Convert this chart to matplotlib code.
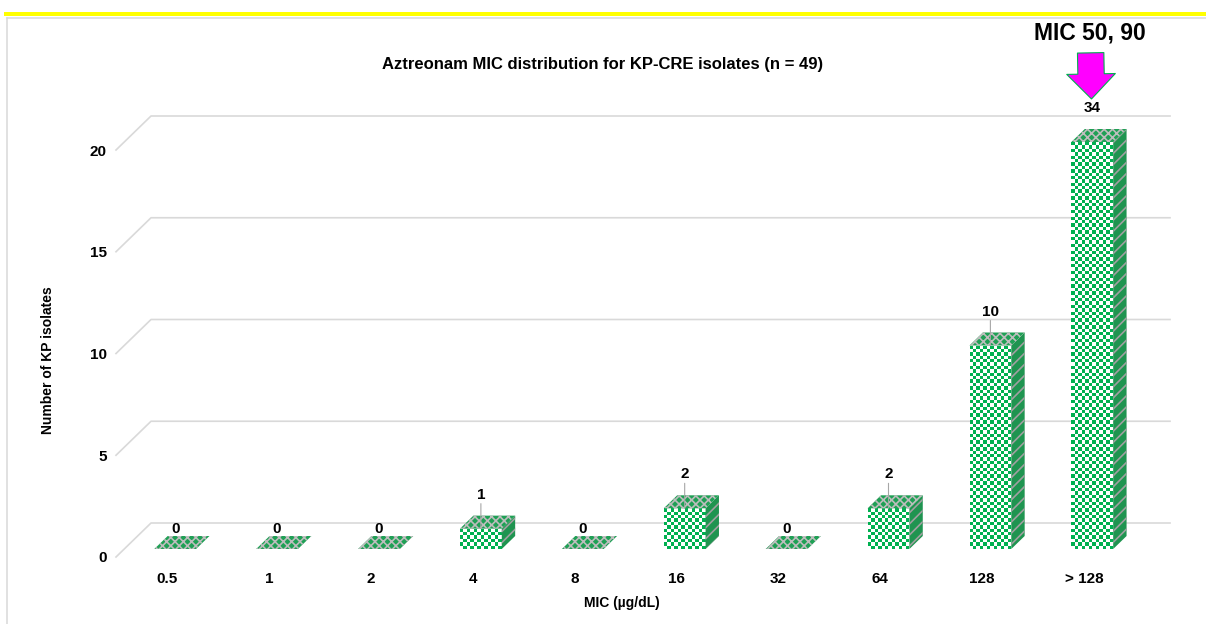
import numpy as np
import matplotlib.pyplot as plt
from matplotlib.patches import Polygon
from matplotlib.lines import Line2D
from matplotlib.colors import ListedColormap

# MIC classes (µg/dL) and number of KP-CRE isolates in each
mic_labels = ["0.5", "1", "2", "4", "8", "16", "32", "64", "128", "> 128"]
isolates = [0, 0, 0, 1, 0, 2, 0, 2, 10, 34]
y_ticks = [0, 5, 10, 15, 20]

plt.rcParams["font.family"] = ["Liberation Sans", "DejaVu Sans"]
plt.rcParams["font.weight"] = "bold"
plt.rcParams["hatch.linewidth"] = 1.2

GREEN = "#00B050"
GRID = "#D9D9D9"
FIG_W, FIG_H, DPI = 1206, 624, 100

# depth of the fake 3d box, in pixels back from the front plane
WALL = 34
BAR_FRONT = 8
BAR_BACK = 21
BAR_W = 0.41
CELL_PX = 3.4

fig = plt.figure(figsize=(FIG_W / DPI, FIG_H / DPI), dpi=DPI)
ax_px = (116, 67, 1019, 407)
ax = fig.add_axes([ax_px[0] / FIG_W, ax_px[1] / FIG_H,
                   ax_px[2] / FIG_W, ax_px[3] / FIG_H])
n = len(mic_labels)
ymax = y_ticks[-1]
px_x = ax_px[2] / n
px_y = ax_px[3] / ymax


def depth(x, y, d):
    # move a front-plane point d pixels back into the box
    return x + 1.03 * d / px_x, y + d / px_y


# back wall gridlines with their slanted lead-ins
for v in y_ticks:
    bx0, by = depth(-0.5, v, WALL)
    bx1, _ = depth(n - 0.5, v, WALL)
    ax.plot([-0.5, bx0, bx1], [v, by, by], color=GRID, lw=1.2,
            clip_on=False, zorder=0)

checker_cmap = ListedColormap(["white", GREEN])

for i, v in enumerate(isolates):
    h = min(v, ymax)
    x0, x1 = i - BAR_W / 2, i + BAR_W / 2
    fl = depth(x0, 0, BAR_FRONT)
    fr = depth(x1, 0, BAR_FRONT)
    tl = depth(x0, h, BAR_FRONT)
    tr = depth(x1, h, BAR_FRONT)
    bl = depth(x0, h, BAR_BACK)
    br = depth(x1, h, BAR_BACK)
    br0 = depth(x1, 0, BAR_BACK)

    if h > 0:
        # checkered front face
        cols = 12
        rows = max(1, int(round(h * px_y / CELL_PX)))
        xs = np.linspace(fl[0], fr[0], cols + 1)
        ys = np.linspace(fl[1], tl[1], rows + 1)
        board = np.add.outer(np.arange(rows), np.arange(cols)) % 2
        ax.pcolormesh(xs, ys, board, cmap=checker_cmap, shading="flat",
                      clip_on=False, zorder=2)
        # right side face
        ax.add_patch(Polygon([fr, tr, br, br0], closed=True,
                             facecolor="#1F9450", edgecolor="#A0A0A0",
                             hatch="///", lw=0, clip_on=False, zorder=2))

    # top face
    ax.add_patch(Polygon([tl, tr, br, bl], closed=True,
                         facecolor="#1FA055", edgecolor="#BDBDBD",
                         hatch="xxxx", lw=0, clip_on=False, zorder=3))

    # value label above the bar
    lx, ly = depth(i, h, BAR_FRONT)
    lift = 20 if v == 0 else 34
    ax.annotate(str(v), xy=(lx, ly), xytext=(0, lift * 72 / DPI),
                textcoords="offset points", ha="center", va="center",
                fontsize=11, fontweight="bold", annotation_clip=False,
                zorder=5)
    if 0 < v <= ymax:
        ax.annotate("", xy=(lx, ly), xytext=(0, (lift - 9) * 72 / DPI),
                    textcoords="offset points", annotation_clip=False,
                    arrowprops=dict(arrowstyle="-", color="#A6A6A6", lw=0.8,
                                    shrinkA=0, shrinkB=0), zorder=4)

# MIC 50 / MIC 90 marker over the last class
last = len(isolates) - 1
ax.annotate("MIC 50, 90", xy=depth(last, min(isolates[last], ymax), BAR_FRONT),
            xytext=(-2 * 72 / DPI, 109 * 72 / DPI), textcoords="offset points",
            ha="center", va="center", fontsize=16.5, fontweight="bold",
            annotation_clip=False, zorder=6,
            arrowprops=dict(arrowstyle="simple,head_length=18,head_width=35,tail_width=19",
                            mutation_scale=1, fc="#FF00FF", ec=GREEN, lw=0.8,
                            shrinkA=4, shrinkB=31))

ax.set_xlim(-0.5, n - 0.5)
ax.set_ylim(0, ymax)
ax.set_facecolor("none")
for s in ax.spines.values():
    s.set_visible(False)
ax.set_yticks(y_ticks)
ax.set_xticks(range(n), mic_labels)
ax.tick_params(axis="y", length=0, pad=6.5, labelsize=11)
ax.tick_params(axis="x", length=0, pad=10.5, labelsize=11)

ax.set_ylabel("Number of KP isolates", fontsize=10, fontweight="bold")
ax.yaxis.label.set_va("center")
ax.yaxis.set_label_coords(-0.0667, 0.484)
ax.set_xlabel("MIC (µg/dL)", fontsize=10, fontweight="bold")
ax.xaxis.set_label_coords(0.4966, -0.113)
ax.xaxis.label.set_va("center")

fig.text(603 / FIG_W, 1 - 64 / FIG_H,
         "Aztreonam MIC distribution for KP-CRE isolates (n = 49)",
         ha="center", va="center", fontsize=12, fontweight="bold")

# slide frame: yellow rule on top, light border on the left
fig.add_artist(Line2D([6 / FIG_W, 1], [1 - 14 / FIG_H] * 2,
                      color="#FFFF00", lw=4 * 72 / DPI))
fig.add_artist(Line2D([7 / FIG_W, 1], [1 - 17.5 / FIG_H] * 2,
                      color=GRID, lw=1.1))
fig.add_artist(Line2D([7 / FIG_W] * 2, [0, 1 - 17.5 / FIG_H],
                      color=GRID, lw=1.1))

fig.savefig("out.png", dpi=DPI, facecolor="white")
